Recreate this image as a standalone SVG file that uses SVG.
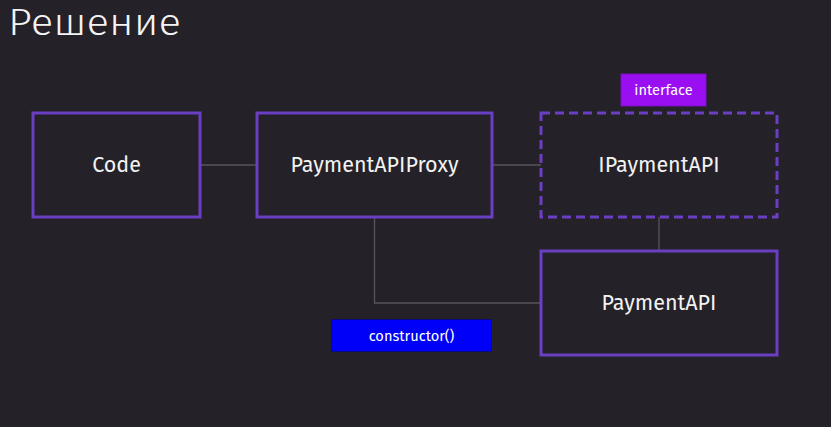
<svg xmlns="http://www.w3.org/2000/svg" width="831" height="427" viewBox="0 0 831 427">
<style>
.bg{fill:#242128}
.box{fill:none;stroke:#6a3fc3;stroke-width:3}
.dash{stroke-dasharray:9 5}
.conn{fill:none;stroke:#57545c;stroke-width:1.3}
.lbl{font-family:"Fira Sans","Open Sans","Noto Sans",sans-serif;font-size:21.5px;fill:#f2f2f2;text-anchor:middle;dominant-baseline:central}
.title{font-family:"Fira Sans","Open Sans","Noto Sans",sans-serif;font-weight:300;font-size:37px;fill:#f4f4f4}
.small{font-family:"Fira Sans","Open Sans","Noto Sans",sans-serif;font-size:14.6px;fill:#ffffff;text-anchor:middle;dominant-baseline:central}
</style>
<rect class="bg" x="0" y="0" width="831" height="427"/>
<text class="title" x="8" y="35" textLength="173" lengthAdjust="spacingAndGlyphs">Решение</text>
<g id="connectors">
<line class="conn" x1="200" y1="165" x2="257" y2="165"/>
<line class="conn" x1="492" y1="165" x2="541" y2="165"/>
<line class="conn" x1="659" y1="217" x2="659" y2="251"/>
<polyline class="conn" points="374.5,217 374.5,303 541,303"/>
</g>
<g id="code">
<rect class="box" x="33" y="113" width="167" height="104"/>
<text class="lbl" x="116.5" y="165">Code</text>
</g>
<g id="proxy">
<rect class="box" x="257" y="113" width="235" height="104"/>
<text class="lbl" x="374.5" y="165">PaymentAPIProxy</text>
</g>
<g id="ipaymentapi">
<rect class="box dash" x="541" y="113" width="236" height="104"/>
<text class="lbl" x="659" y="165">IPaymentAPI</text>
</g>
<g id="interface">
<rect x="621" y="74" width="85" height="32" fill="#9a0ef2" stroke="#7a10c0" stroke-width="1"/>
<text class="small" x="663.5" y="90">interface</text>
</g>
<g id="paymentapi">
<rect class="box" x="541" y="251" width="236" height="104"/>
<text class="lbl" x="659" y="303">PaymentAPI</text>
</g>
<g id="constructor">
<rect x="331.5" y="319.5" width="160" height="32" fill="#0000f8" stroke="#0a0a80" stroke-width="1"/>
<text class="small" x="411.5" y="335.5">constructor()</text>
</g>
</svg>
